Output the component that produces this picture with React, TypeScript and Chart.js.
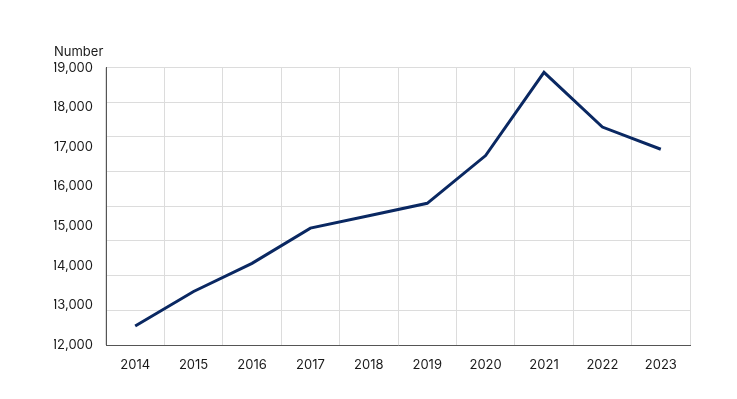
import React, { useEffect, useRef } from "react";
import { Chart, registerables } from "chart.js";

Chart.register(...registerables);

const years = ["2014", "2015", "2016", "2017", "2018", "2019", "2020", "2021", "2022", "2023"];
const values = [12480, 13350, 14060, 14950, 15260, 15575, 16780, 18880, 17500, 16940];
const yMin = 12000;
const yMax = 19000;
const yStep = 1000;
const gridDivisions = 8;
const yTitle = "Number";

const FONT = "Inter, 'Noto Sans', sans-serif";
const TEXT = "#1a1a1a";
const GRID = "#dcdcdc";
const AXIS = "#555555";
const LINE = "#0a2862";

export default function App() {
  const ref = useRef<HTMLCanvasElement | null>(null);

  useEffect(() => {
    document.body.style.margin = "0";
    const canvas = ref.current;
    if (!canvas) return;
    const chart = new Chart(canvas, {
      type: "line",
      data: {
        labels: years,
        datasets: [
          {
            data: values,
            borderColor: LINE,
            borderWidth: 3,
            pointRadius: 0,
            tension: 0,
            fill: false,
            yAxisID: "y",
          },
        ],
      },
      options: {
        animation: false,
        responsive: false,
        maintainAspectRatio: false,
        layout: { padding: { left: 54, right: 47, top: 0, bottom: 0 } },
        plugins: {
          legend: { display: false },
          tooltip: { enabled: false },
          title: {
            display: true,
            text: yTitle,
            align: "start",
            color: TEXT,
            font: { family: FONT, size: 13, weight: "normal" },
            padding: { top: 44, bottom: 8 },
          },
        },
        scales: {
          x: {
            type: "category",
            offset: true,
            grid: { display: true, offset: true, color: GRID, drawTicks: false },
            border: { display: true, color: AXIS, width: 1 },
            ticks: {
              color: TEXT,
              padding: 12,
              maxRotation: 0,
              font: { family: FONT, size: 13 },
            },
            afterFit: (s: any) => {
              s.height = 54;
            },
          },
          y: {
            position: "left",
            min: yMin,
            max: yMax,
            grid: { display: false, drawTicks: false },
            border: { display: true, color: AXIS, width: 1 },
            ticks: {
              stepSize: yStep,
              color: TEXT,
              padding: 13,
              font: { family: FONT, size: 13 },
              callback: (v: any) => Number(v).toLocaleString("en-US"),
            },
            afterFit: (s: any) => {
              s.width = 52;
            },
          },
          yg: {
            position: "right",
            min: 0,
            max: gridDivisions,
            grid: { display: true, color: GRID, drawTicks: false },
            border: { display: false },
            ticks: { display: false, stepSize: 1 },
            afterFit: (s: any) => {
              s.width = 0;
            },
          },
        },
      },
    });
    return () => chart.destroy();
  }, []);

  return <canvas ref={ref} width={737} height={399} style={{ display: "block" }} />;
}
